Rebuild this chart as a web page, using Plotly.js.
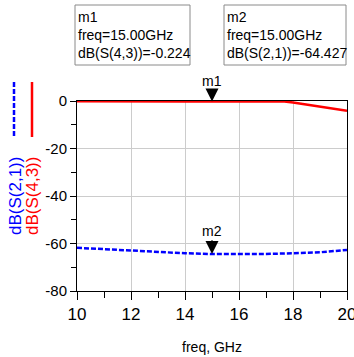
<!DOCTYPE html>
<html>
<head>
<meta charset="utf-8">
<script src="https://cdn.plot.ly/plotly-3.0.1.min.js"></script>
<style>html,body{margin:0;padding:0;background:#fff;}#chart{width:354px;height:357px;}</style>
</head>
<body>
<div id="chart"></div>
<script>
// Data
var freq = [10, 11, 12, 13, 14, 15, 16, 17, 17.6, 18, 19, 20];
var dB_S43 = [-0.1, -0.2, -0.35, -0.35, -0.25, -0.224, -0.15, -0.1, -0.15, -0.6, -2.3, -4.1];
var freqS21 = [10, 11, 12, 13, 14, 15, 16, 17, 18, 19, 20];
var dB_S21 = [-61.8, -62.4, -63.0, -63.7, -64.1, -64.427, -64.5, -64.4, -64.1, -63.7, -62.7];
var markerNames = ["m1", "m2"];
var markerFreq = [15.00, 15.00];
var markerVals = [-0.224, -64.427];
var markerTraces = ["dB(S(4,3))", "dB(S(2,1))"];
var xTicks = [10, 12, 14, 16, 18, 20];
var yTicks = [0, -20, -40, -60, -80];

var FONT = "Liberation Sans, Arial, sans-serif";
var NARROW = "Liberation Sans Narrow, Arial Narrow, Liberation Sans, sans-serif";

var traces = [
  {x: freq, y: dB_S43, mode: "lines", line: {color: "#ff0000", width: 2.5}, showlegend: false, hoverinfo: "none"},
  {x: freqS21, y: dB_S21, mode: "lines", line: {color: "#0000ff", width: 2.5, dash: "5px,2px"}, showlegend: false, hoverinfo: "none"}
];

var W = 270, H = 190, L = 77, T = 101;
function px(x){ return (x - L) / W; }
function py(y){ return (T + H - y) / H; }

var annotations = [];
var shapes = [];
for (var i = 0; i < markerNames.length; i++) {
  annotations.push({
    x: markerFreq[i], y: markerVals[i], xref: "x", yref: "y",
    text: markerNames[i], showarrow: true, arrowhead: 2, arrowsize: 1.3, arrowwidth: 2,
    arrowcolor: "#000", ax: 0, ay: i === 0 ? -21 : -23, standoff: 0,
    font: {family: FONT, size: 14, color: "#000"}
  });
}
var boxX = [[75, 190], [224, 346]];
for (var j = 0; j < markerNames.length; j++) {
  shapes.push({type: "rect", xref: "paper", yref: "paper",
    x0: px(boxX[j][0]), x1: px(boxX[j][1]), y0: py(65), y1: py(5),
    line: {color: "#8a8a8a", width: 1}, fillcolor: "rgba(0,0,0,0)"});
  annotations.push({
    xref: "paper", yref: "paper", x: px(boxX[j][0] + 1), y: py(7),
    xanchor: "left", yanchor: "top", align: "left", showarrow: false,
    text: markerNames[j] + "<br>freq=" + markerFreq[j].toFixed(2) + "GHz<br>" + markerTraces[j] + "=" + markerVals[j].toFixed(3),
    font: {family: FONT, size: 14, color: "#000"}
  });
}
// vertical legend
shapes.push({type: "line", xref: "paper", yref: "paper", x0: px(14), x1: px(14), y0: py(82), y1: py(137),
  line: {color: "#0000ff", width: 2.5, dash: "5px,2px"}});
shapes.push({type: "line", xref: "paper", yref: "paper", x0: px(32), x1: px(32), y0: py(82), y1: py(137),
  line: {color: "#ff0000", width: 2.5}});
annotations.push({xref: "paper", yref: "paper", x: px(15), y: py(196), xanchor: "center", yanchor: "middle",
  text: "dB(S(2,1))", textangle: -90,
  showarrow: false, font: {family: FONT, size: 17, color: "#0000ff"}});
annotations.push({xref: "paper", yref: "paper", x: px(32), y: py(196), xanchor: "center", yanchor: "middle",
  text: "dB(S(4,3))", textangle: -90,
  showarrow: false, font: {family: FONT, size: 17, color: "#ff0000"}});

var layout = {
  width: 354, height: 357,
  margin: {l: L, r: 354 - L - W, t: T, b: 357 - T - H, pad: 0},
  paper_bgcolor: "#fff", plot_bgcolor: "#fff",
  font: {family: FONT, size: 14, color: "#000"},
  xaxis: {
    range: [10, 20], tickvals: xTicks, ticktext: xTicks.map(String),
    ticks: "outside", ticklen: 8, tickcolor: "#000", tickwidth: 1,
    showgrid: true, gridcolor: "#cccccc", gridwidth: 1,
    showline: true, linecolor: "#000", linewidth: 1, mirror: true, zeroline: false,
    minor: {dtick: 1, tick0: 10, ticks: "outside", ticklen: 6, tickcolor: "#000", showgrid: false},
    tickfont: {family: NARROW, size: 17},
    ticklabeloverflow: "allow",
    title: {text: "freq, GHz", font: {family: FONT, size: 14}, standoff: 18}
  },
  yaxis: {
    range: [-80, 0], tickvals: yTicks, ticktext: yTicks.map(String),
    ticks: "outside", ticklen: 6, tickcolor: "#000", tickwidth: 1,
    showgrid: true, gridcolor: "#cccccc", gridwidth: 1,
    showline: true, linecolor: "#000", linewidth: 1, mirror: true, zeroline: false,
    minor: {dtick: 10, tick0: 0, ticks: "outside", ticklen: 5, tickcolor: "#000", showgrid: false},
    tickfont: {family: FONT, size: 15},
    ticklabeloverflow: "allow"
  },
  shapes: shapes,
  annotations: annotations
};

Plotly.newPlot("chart", traces, layout, {staticPlot: true, displayModeBar: false});
</script>
</body>
</html>
